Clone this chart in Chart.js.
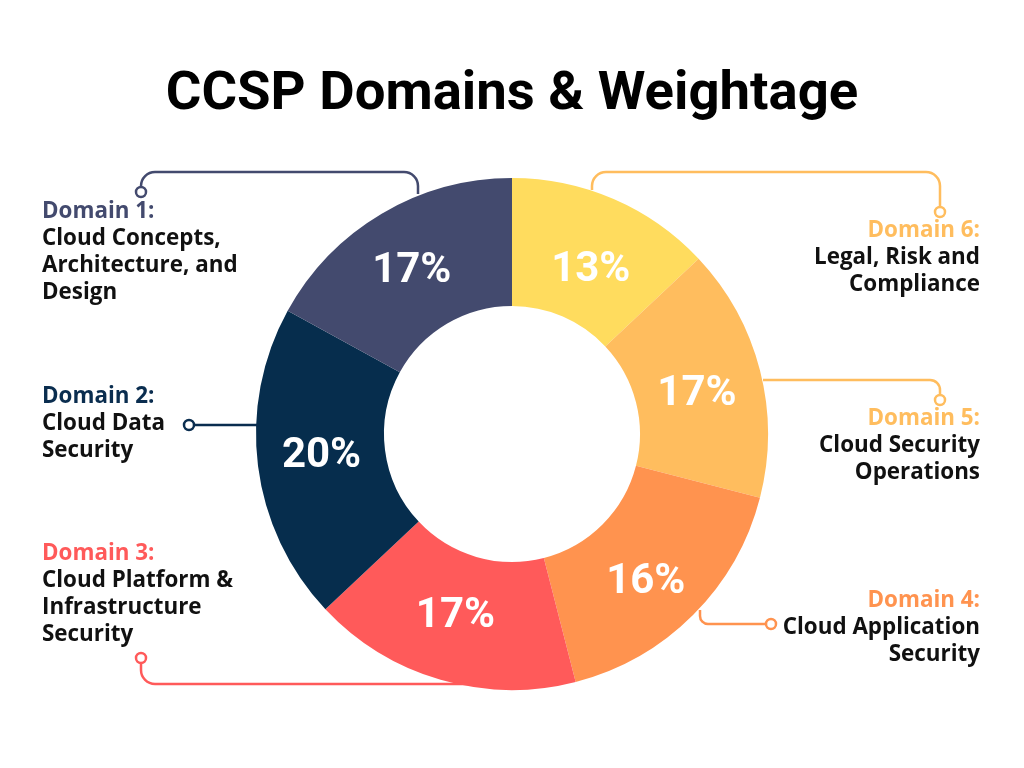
<!DOCTYPE html>
<html><head><meta charset="utf-8">
<script src="https://cdn.jsdelivr.net/npm/chart.js@4"></script>
<style>html,body{margin:0;padding:0;background:#fff;}#wrap{width:1024px;height:768px;position:relative;}</style>
</head><body><div id="wrap"><canvas id="c" width="1024" height="768"></canvas></div>
<script>
// Data (clockwise from 12 o'clock)
const categories = ["Domain 6", "Domain 5", "Domain 4", "Domain 3", "Domain 2", "Domain 1"];
const weights = [13, 16, 17, 17, 20, 17];
const percentLabels = ["13%", "17%", "16%", "17%", "20%", "17%"];
const sliceColors = ["#FFDC5E", "#FFBD5E", "#FF934F", "#FF5A5A", "#062D4D", "#434A6E"];
const headingColors = ["#FFBD5E", "#FFBD5E", "#FF934F", "#FF5A5A", "#0A2D4F", "#434A6E"];
const descriptions = [
  ["Legal, Risk and", "Compliance"],
  ["Cloud Security", "Operations"],
  ["Cloud Application", "Security"],
  ["Cloud Platform &", "Infrastructure", "Security"],
  ["Cloud Data", "Security"],
  ["Cloud Concepts,", "Architecture, and", "Design"]
];
const titleText = "CCSP Domains & Weightage";

const labelFont = 'bold 22.4px "Open Sans", "Noto Sans", sans-serif';
// label block placement: [x, firstLineY, align]
const blocks = [
  [980, 231, 'right'],
  [980, 419, 'right'],
  [980, 601, 'right'],
  [42, 554, 'left'],
  [42, 397, 'left'],
  [42, 212, 'left']
];
const lineH = 27;
// small visual nudges of the percent labels from the arc centre point
const pctNudge = [[2.5, 8], [-1, 4], [-2, 8], [-3, -6], [0, -6.5], [-2.5, -2]];

function connector(ctx, color, pts, r, dot) {
  ctx.save();
  ctx.strokeStyle = color; ctx.lineWidth = 2.5; ctx.lineJoin = 'round';
  ctx.beginPath();
  ctx.moveTo(pts[0][0], pts[0][1]);
  for (let i = 1; i < pts.length - 1; i++) ctx.arcTo(pts[i][0], pts[i][1], pts[i+1][0], pts[i+1][1], r);
  ctx.lineTo(pts[pts.length-1][0], pts[pts.length-1][1]);
  ctx.stroke();
  ctx.beginPath(); ctx.arc(dot[0], dot[1], 5, 0, Math.PI*2);
  ctx.fillStyle = '#fff'; ctx.fill(); ctx.stroke();
  ctx.restore();
}

const decor = {
  id: 'decor',
  afterDraw(chart) {
    const ctx = chart.ctx;
    // title
    ctx.save();
    ctx.fillStyle = '#000'; ctx.textAlign = 'center'; ctx.textBaseline = 'alphabetic';
    ctx.font = 'bold 54.5px Roboto, sans-serif';
    ctx.fillText(titleText, 512, 109);
    ctx.restore();
    // percent labels
    const meta = chart.getDatasetMeta(0);
    ctx.save();
    ctx.fillStyle = '#fff'; ctx.textAlign = 'center'; ctx.textBaseline = 'alphabetic';
    ctx.font = 'bold 42px Roboto, sans-serif';
    meta.data.forEach((arc, i) => {
      const p = arc.getCenterPoint();
      ctx.fillText(percentLabels[i], p.x + pctNudge[i][0], p.y + pctNudge[i][1] + 15);
    });
    ctx.restore();
    // connectors
    connector(ctx, headingColors[5], [[141,187],[141,172],[418,172],[418,194]], 14, [141,192]);
    connector(ctx, headingColors[4], [[194,425],[258,425]], 0, [189,425]);
    connector(ctx, headingColors[3], [[141,663],[141,684],[470,684]], 14, [141,658]);
    connector(ctx, headingColors[2], [[766,624],[700,624],[700,610]], 8, [771,624]);
    connector(ctx, headingColors[1], [[763,380],[940,380],[940,395]], 10, [940,400]);
    connector(ctx, headingColors[0], [[592,190],[592,172],[940,172],[940,207]], 14, [940,212]);
    // labels
    ctx.save();
    ctx.textBaseline = 'middle';
    ctx.font = labelFont;
    blocks.forEach((b, i) => {
      ctx.textAlign = b[2];
      ctx.fillStyle = headingColors[i];
      ctx.fillText(categories[i] + ':', b[0], b[1]);
      ctx.fillStyle = '#111';
      descriptions[i].forEach((t, j) => ctx.fillText(t, b[0], b[1] + lineH*(j+1)));
    });
    ctx.restore();
  }
};

new Chart(document.getElementById('c'), {
  type: 'doughnut',
  data: { labels: categories, datasets: [{ data: weights, backgroundColor: sliceColors, borderWidth: 0, hoverOffset: 0 }] },
  options: {
    responsive: false, animation: false, cutout: '50%',
    layout: { padding: { top: 178, bottom: 78, left: 0, right: 0 } },
    plugins: { legend: { display: false }, tooltip: { enabled: false }, title: { display: false } }
  },
  plugins: [decor]
});
</script></body></html>
